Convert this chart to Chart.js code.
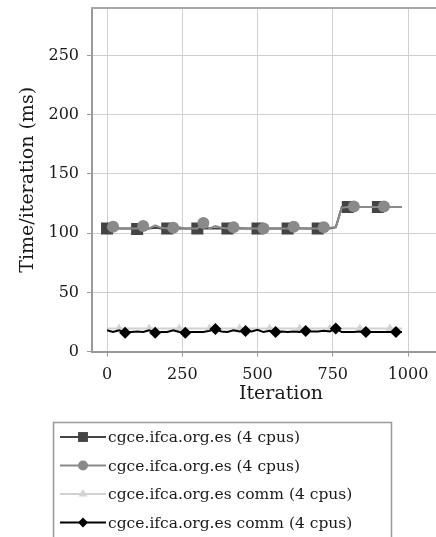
<!DOCTYPE html>
<html>
<head>
<meta charset="UTF-8">
<title>Time per iteration</title>
<script src="https://cdn.jsdelivr.net/npm/chart.js@4.4.1/dist/chart.umd.min.js"></script>
<style>
  html, body { margin: 0; padding: 0; background: #fff; overflow: hidden; }
  #wrap { width: 436px; height: 537px; overflow: hidden; }
</style>
</head>
<body>
<div id="wrap"><canvas id="canvas" width="470" height="537"></canvas></div>
<script>
// iterations (every 20)
var iterations = [0, 20, 40, 60, 80, 100, 120, 140, 160, 180,
                  200, 220, 240, 260, 280, 300, 320, 340, 360, 380,
                  400, 420, 440, 460, 480, 500, 520, 540, 560, 580,
                  600, 620, 640, 660, 680, 700, 720, 740, 760, 780,
                  800, 820, 840, 860, 880, 900, 920, 940, 960, 980];

var seriesNames = ["cgce.ifca.org.es (4 cpus)", "cgce.ifca.org.es (4 cpus)",
                   "cgce.ifca.org.es comm (4 cpus)", "cgce.ifca.org.es comm (4 cpus)"];

// time/iteration (ms)
var total1 = [104, 104, 104, 104, 104, 103.5, 104, 104, 104.5, 104,
              104, 104, 104, 104, 104, 104, 104, 104, 104, 104,
              104, 104, 104, 104, 104, 104, 104, 104, 104, 104,
              104, 104, 104, 104, 104, 104, 104, 104, 105, 122,
              122, 122, 122, 122, 122, 122, 122, 122, 122, 122];
var total2 = [104, 105.5, 104, 104, 104, 104, 106, 104, 106.5, 104.5,
              104, 104.5, 105, 104, 104, 104, 108.5, 104, 106, 104.5,
              104, 105, 104.5, 104, 104, 104, 104, 104, 104, 104,
              104, 105.5, 104.5, 104, 104, 104, 105, 104.5, 105, 121.5,
              122, 122.5, 122, 122, 122, 122, 122.5, 122, 122, 122];
var comm1 = [19.5, 19.5, 19.5, 19.5, 19.5, 19.5, 19.5, 19.5, 19.5, 19.5,
             19.5, 19.5, 19.5, 19.5, 19.5, 19.5, 19.5, 19.5, 19.5, 19.5,
             19.5, 19.5, 19.5, 19.5, 19.5, 19.5, 19.5, 19.5, 19.5, 19.5,
             19.5, 19.5, 19.5, 19.5, 19.5, 19.5, 19.5, 19.5, 19.5, 19.5,
             19.5, 19.5, 19.5, 19.5, 19.5, 19.5, 19.5, 19.5, 19.5, 19.5];
var comm2 = [18, 16.5, 18, 16, 16.5, 17, 16.5, 18, 16, 16.5,
             16.5, 18, 16.5, 16, 16.5, 16.5, 16.5, 17.5, 19, 17,
             16.5, 18, 17, 17.5, 17, 18.5, 16.5, 17.5, 16.5, 17,
             16.5, 17, 16.5, 17.5, 17, 17, 17.5, 17, 19.5, 16.5,
             16.5, 16.5, 17, 16.5, 16.5, 16.5, 16.5, 16.5, 16.5, 16.5];

var yTicks = [0, 50, 100, 150, 200, 250];
var xTicks = [0, 250, 500, 750, 1000];

var FONT = "'DejaVu Serif', serif";

function pts(ys) {
  return ys.map(function (y, i) { return { x: iterations[i], y: y }; });
}
// markers on every fifth point, shifted per series
function markEvery(offset, r) {
  return function (ctx) { return ctx.dataIndex % 5 === offset ? r : 0; };
}

var styles = [
  { color: '#444444', point: 'rect', radius: 8.5, legendR: 7, offset: 0, width: 2 },
  { color: '#8a8a8a', point: 'circle', radius: 6, legendR: 5, offset: 1, width: 2 },
  { color: '#d2d2d2', point: 'triangle', radius: 5, legendR: 5, offset: 2, width: 2 },
  { color: '#000000', point: 'rectRot', radius: 6, legendR: 5, offset: 3, width: 2 }
];
var values = [total1, total2, comm1, comm2];

var datasets = values.map(function (v, k) {
  var s = styles[k];
  return {
    label: seriesNames[k],
    data: pts(v),
    borderColor: s.color,
    backgroundColor: s.color,
    borderWidth: s.width,
    pointStyle: s.point,
    pointRadius: markEvery(s.offset, s.radius),
    pointBorderWidth: 0,
    pointHoverRadius: 0,
    tension: 0,
    order: 4 - k
  };
});

// top frame line + legend box
var frameAndLegend = {
  id: 'frameAndLegend',
  beforeDatasetsDraw: function (chart) {
    var c = chart.ctx, a = chart.chartArea;
    c.save();
    c.strokeStyle = '#a8a8a8';
    c.lineWidth = 2;
    c.beginPath();
    c.moveTo(a.left - 1, a.top);
    c.lineTo(a.right, a.top);
    c.stroke();
    c.restore();
  },
  afterDraw: function (chart) {
    var c = chart.ctx;
    c.save();
    c.strokeStyle = '#999';
    c.lineWidth = 1.5;
    c.strokeRect(53.5, 422.5, 338, 130);
    c.font = '15.5px ' + FONT;
    c.textBaseline = 'middle';
    for (var k = 0; k < styles.length; k++) {
      var s = styles[k];
      var y = 437 + k * 28.5;
      c.strokeStyle = s.color;
      c.lineWidth = s.width;
      c.beginPath();
      c.moveTo(60, y);
      c.lineTo(106, y);
      c.stroke();
      c.fillStyle = s.color;
      Chart.helpers.drawPoint(c, { pointStyle: s.point, radius: s.legendR, rotation: 0, borderWidth: 0 }, 83, y);
      c.fillStyle = '#1a1a1a';
      c.fillText(seriesNames[k], 108, y + 1);
    }
    c.restore();
  }
};

new Chart(document.getElementById('canvas').getContext('2d'), {
  type: 'line',
  data: { datasets: datasets },
  options: {
    responsive: false,
    animation: false,
    events: [],
    layout: { autoPadding: false, padding: { top: 3, right: 0, bottom: 143, left: 0 } },
    plugins: { legend: { display: false }, tooltip: { enabled: false } },
    scales: {
      x: {
        type: 'linear',
        min: -50,
        max: 1206,
        afterBuildTicks: function (scale) {
          scale.ticks = xTicks.map(function (v) { return { value: v }; });
        },
        ticks: {
          font: { family: FONT, size: 16 }, color: '#1a1a1a', padding: 9, maxRotation: 0,
          callback: function (v) { return String(v); }
        },
        grid: { color: '#d0d0d0', lineWidth: 1, drawTicks: true, tickLength: 5, tickColor: '#999' },
        border: { color: '#999', width: 2 },
        title: { display: true, text: 'Iteration', font: { family: FONT, size: 19, lineHeight: 0.01 }, color: '#1a1a1a', padding: { top: 0, bottom: 0 } }
      },
      y: {
        min: 0,
        max: 290,
        afterBuildTicks: function (scale) {
          scale.ticks = yTicks.map(function (v) { return { value: v }; });
        },
        afterFit: function (scale) { scale.width = 92; },
        ticks: {
          font: { family: FONT, size: 16, lineHeight: 0.01 }, color: '#1a1a1a', padding: 8,
          callback: function (v) { return String(v); }
        },
        grid: { color: '#d0d0d0', lineWidth: 1, drawTicks: true, tickLength: 5, tickColor: '#999' },
        border: { color: '#999', width: 2 },
        title: { display: true, text: 'Time/iteration (ms)', font: { family: FONT, size: 19 }, color: '#1a1a1a', padding: { top: 17, bottom: 0 } }
      }
    }
  },
  plugins: [frameAndLegend]
});
</script>
</body>
</html>
